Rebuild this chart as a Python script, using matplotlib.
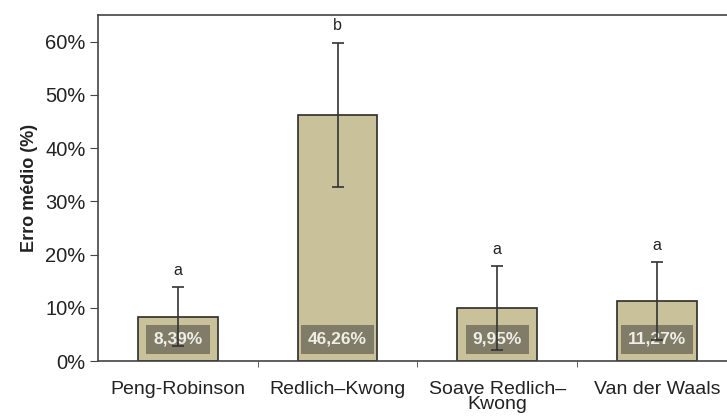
import matplotlib
matplotlib.use('Agg')
from matplotlib import pyplot as plt
from matplotlib.ticker import PercentFormatter

# data
modelos = ['Peng-Robinson', 'Redlich\u2013Kwong', 'Soave Redlich\u2013\nKwong', 'Van der Waals']
erro = [8.39, 46.26, 9.95, 11.27]
desvio = [5.5, 13.5, 7.9, 7.3]
letras = ['a', 'b', 'a', 'a']
rotulos = ['8,39%', '46,26%', '9,95%', '11,27%']

plt.rcParams['font.family'] = ['Liberation Sans', 'DejaVu Sans']

fig = plt.figure(figsize=(7.27, 4.19), dpi=100)
ax = fig.add_axes([0.135, 0.138, 0.865, 0.826])

x = list(range(len(modelos)))
ax.bar(x, erro, width=0.5, color='#c9c19a', edgecolor='#2b2b2b', linewidth=1.2, zorder=2)
ax.errorbar(x, erro, yerr=desvio, fmt='none', ecolor='#333333', elinewidth=1.2,
            capsize=4, capthick=1.2, zorder=3)

for i in x:
    ax.text(i, erro[i] + desvio[i] + 3.2, letras[i], ha='center', va='center',
            fontsize=11.5, color='#222222')
    ax.text(i, 4.1, rotulos[i], ha='center', va='center', fontsize=12.5,
            fontweight='bold', color='#eeeee6', zorder=2.5,
            bbox=dict(boxstyle='square,pad=0.4', facecolor='#6e6b5c', alpha=0.8,
                      edgecolor='none'))

ax.set_xlim(-0.5, 3.44)
ax.set_ylim(0, 65)
ax.set_yticks(range(0, 61, 10))
ax.yaxis.set_major_formatter(PercentFormatter(decimals=0))
ax.set_xticks(x)
ax.set_xticklabels(modelos, fontsize=14, color='#222222', linespacing=0.9)
ax.set_xticks([0.5, 1.5, 2.5], minor=True)
ax.tick_params(axis='x', which='major', length=0, pad=14)
ax.tick_params(axis='x', which='minor', length=4, direction='out', color='#444444')
ax.tick_params(axis='y', length=6, direction='out', labelsize=14.5, color='#444444',
               labelcolor='#222222', pad=3)
ax.set_ylabel('Erro m\u00e9dio (%)', fontsize=13, fontweight='bold', color='#222222',
              labelpad=5)

for s in ['left', 'bottom', 'top']:
    ax.spines[s].set_color('#444444')
    ax.spines[s].set_linewidth(1.2)
ax.spines['right'].set_visible(False)

plt.savefig('out.png', dpi=100)
